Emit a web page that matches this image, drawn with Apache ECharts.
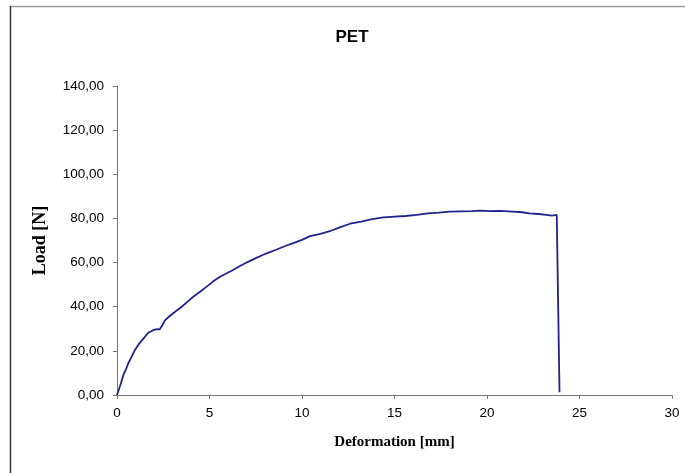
<!DOCTYPE html>
<html>
<head>
<meta charset="utf-8">
<script src="https://cdn.jsdelivr.net/npm/echarts@6/dist/echarts.min.js"></script>
<style>html,body{margin:0;padding:0;background:#fff}#c{width:685px;height:473px}</style>
</head>
<body>
<div id="c"></div>
<script>
const chartTitle = 'PET';
const xAxisName = 'Deformation [mm]';
const yAxisName = 'Load [N]';
const deformation = [0, 0.1, 0.2, 0.34, 0.5, 0.61, 0.8, 0.97, 1.2, 1.45, 1.69, 1.85, 1.96, 2.14, 2.3, 2.45, 2.59, 2.85, 3.14, 3.5, 3.8, 4.12, 4.49, 4.85, 5.2, 5.57, 5.75, 6.2, 6.6, 7.0, 7.5, 8.09, 8.6, 9.1, 9.6, 10.0, 10.43, 11.0, 11.5, 12.0, 12.6, 13.2, 13.8, 14.4, 15.0, 15.6, 16.2, 16.8, 17.4, 18.0, 18.6, 19.2, 19.6, 20.2, 20.7, 21.4, 21.9, 22.3, 22.8, 23.2, 23.5, 23.77, 23.85, 23.92];
const load = [0, 2.5, 5, 9, 12, 14.3, 17.5, 20.4, 23.3, 25.8, 28.2, 28.9, 29.4, 29.8, 29.7, 31.6, 33.8, 35.8, 37.7, 40, 42.2, 44.5, 46.8, 49.1, 51.5, 53.6, 54.4, 56.3, 58.2, 60, 62, 64.2, 65.8, 67.5, 69, 70.3, 72.0, 73, 74.2, 75.8, 77.6, 78.6, 79.7, 80.5, 80.8, 81.1, 81.6, 82.3, 82.6, 83.1, 83.2, 83.3, 83.5, 83.3, 83.4, 83.1, 82.8, 82.3, 82.0, 81.6, 81.3, 81.6, 81.2, 1.2];
const xTicks = {min: 0, max: 30, interval: 5};
const yTicks = {min: 0, max: 140, interval: 20};

const chart = echarts.init(document.getElementById('c'));
chart.setOption({
  animation: false,
  backgroundColor: '#fff',
  graphic: [
    {type: 'line', shape: {x1: 10, y1: 6.5, x2: 685, y2: 6.5}, style: {stroke: '#9a9a9a', lineWidth: 1.5}},
    {type: 'line', shape: {x1: 10.5, y1: 6, x2: 10.5, y2: 473}, style: {stroke: '#333', lineWidth: 1.5}}
  ],
  title: {
    text: chartTitle, left: 347, top: 24, textAlign: 'center',
    textStyle: {fontFamily: 'Liberation Sans', fontSize: 17, fontWeight: 'bold', color: '#000'}
  },
  grid: {left: 117, right: 13, top: 86, bottom: 78, containLabel: false},
  xAxis: {
    type: 'value', min: xTicks.min, max: xTicks.max, interval: xTicks.interval,
    name: xAxisName, nameLocation: 'middle', nameGap: 40,
    nameTextStyle: {fontFamily: 'Liberation Serif', fontWeight: 'bold', fontSize: 15, color: '#000'},
    axisLine: {lineStyle: {color: '#777', width: 1}},
    axisTick: {show: true, inside: false, length: 4, lineStyle: {color: '#777'}},
    axisLabel: {fontFamily: 'Liberation Sans', fontSize: 13.5, color: '#000', margin: 11},
    splitLine: {show: false}
  },
  yAxis: {
    type: 'value', min: yTicks.min, max: yTicks.max, interval: yTicks.interval,
    name: yAxisName, nameLocation: 'middle', nameGap: 68, nameRotate: 90,
    nameTextStyle: {fontFamily: 'Liberation Serif', fontWeight: 'bold', fontSize: 18, color: '#000'},
    axisLine: {show: true, lineStyle: {color: '#777', width: 1}},
    axisTick: {show: true, length: 4, lineStyle: {color: '#777'}},
    axisLabel: {fontFamily: 'Liberation Sans', fontSize: 13.5, color: '#000', margin: 13,
      formatter: v => v.toFixed(2).replace('.', ',')},
    splitLine: {show: false}
  },
  series: [{
    type: 'line', showSymbol: false, smooth: false,
    data: deformation.map((d, i) => [d, load[i]]),
    lineStyle: {color: '#22228f', width: 1.8}
  }]
});
</script>
</body>
</html>
